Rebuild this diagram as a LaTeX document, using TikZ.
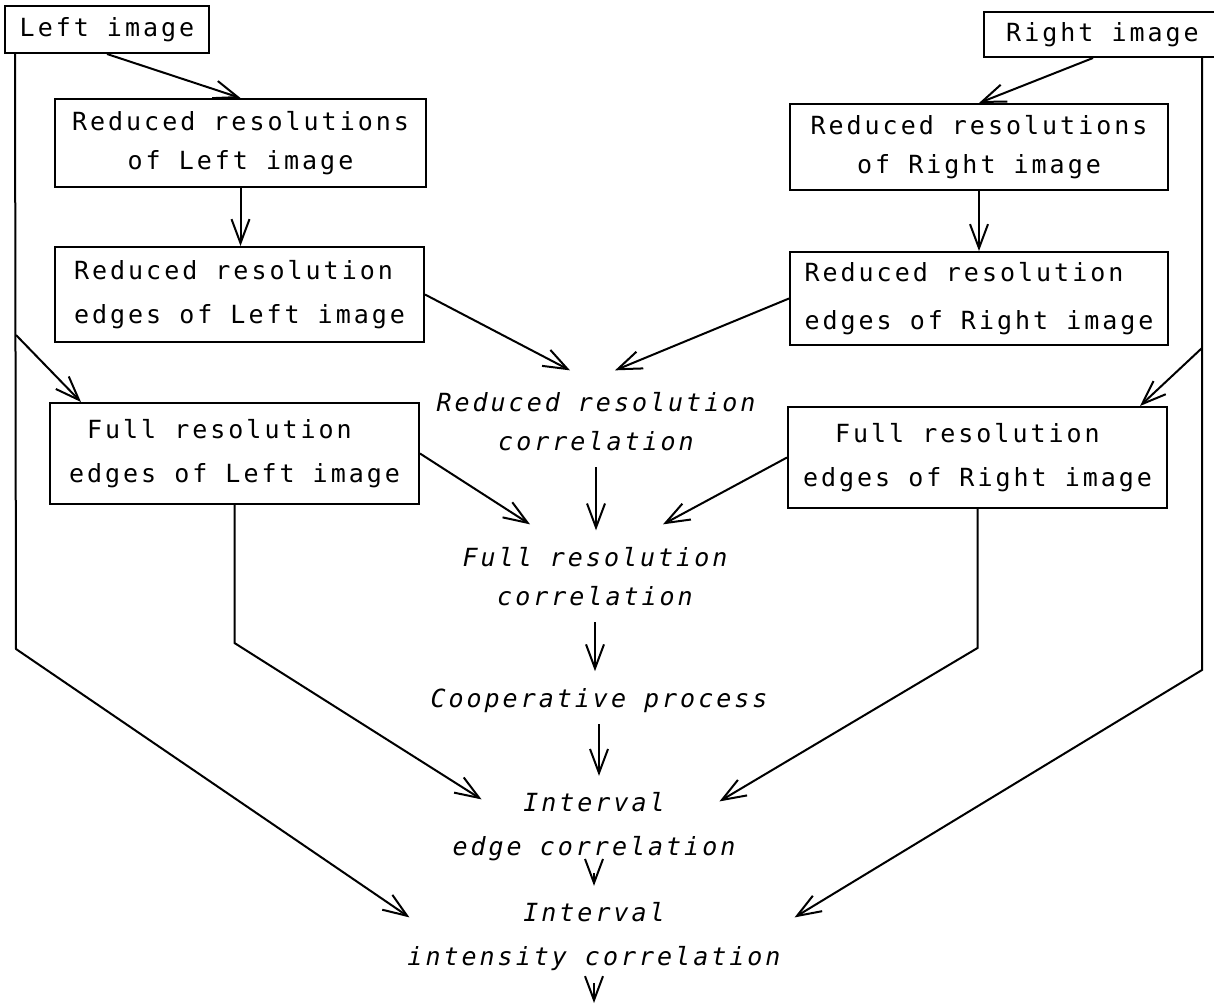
\documentclass[tikz,border=0pt]{standalone}
\usepackage{fontspec}
\newfontfamily\plotfont[LetterSpace=12]{DejaVu Sans Mono}
\usetikzlibrary{arrows.meta,calc}

\tikzset{
  box/.style={draw, font=\plotfont\fontsize{25}{39}\selectfont},
  corr/.style={font=\plotfont\itshape\fontsize{25}{39}\selectfont, align=center,
    inner xsep=12pt, inner ysep=16pt, text depth=0pt},
  >={Straight Barb[length=24pt,width=18pt]}
}

\begin{document}
\begin{tikzpicture}[x=1pt,y=-1pt,line width=2pt]
  \useasboundingbox (0,0) rectangle (1214,1004);

  \node[box, align=center, minimum width=204pt, minimum height=47pt] (limg) at (107,29.5) {Left image};
  \node[box, anchor=west, align=center, minimum width=237pt, minimum height=45pt] (rimg) at (983,34.5) {Right image};
  \node[box, align=center, minimum width=371pt, minimum height=88pt] (lred) at (240.5,143) {Reduced resolutions\\of Left image};
  \node[box, align=left, minimum width=369pt, minimum height=95pt] (ledge) at (239.5,294.5) {Reduced resolution\\[5pt]edges of Left image};
  \node[box, align=center, minimum width=378pt, minimum height=86pt] (rred) at (979,147) {Reduced resolutions\\of Right image};
  \node[box, align=left, minimum width=378pt, minimum height=93pt] (redge) at (979,298.5) {Reduced resolution\\[9pt]edges of Right image};
  \node[box, align=left, minimum width=369pt, minimum height=101pt] (lfull) at (234.5,453.5) {\hspace*{18pt}Full resolution\\[5pt]edges of Left image};
  \node[box, align=left, minimum width=379pt, minimum height=101pt] (rfull) at (977.5,457.5) {\hspace*{32pt}Full resolution\\[5pt]edges of Right image};

  \node[corr] (rcorr) at (596,421.4) {Reduced resolution\\correlation};
  \node[corr] (fcorr) at (595,576.4) {Full resolution\\correlation};
  \node[corr] (coop) at (599,697.7) {Cooperative process};
  \node[corr] (ecorr) at (594,824.4) {Interval\\[5pt]edge correlation};
  \node[corr] (icorr) at (594,934.4) {Interval\\[5pt]intensity correlation};

  \coordinate (ltop) at ($(limg.south west)+(11,0)$);
  \coordinate (lsplit) at (16,335);
  \coordinate (lbend) at (16,649);
  \coordinate (rtop) at ($(rimg.south west)+(219,0)$);
  \coordinate (rsplit) at (1202,348);
  \coordinate (rbend) at (1202,670);
  \coordinate (out) at (594,1003);

  \draw[->] (limg.south) -- (lred.north);
  \draw[->] ($(rimg.south west)+(110,0)$) -- (rred.north);
  \draw[->] (lred.south) -- (lred.south |- ledge.north);
  \draw[->] (rred.south) -- (redge.north);
  \draw[->] (ledge.east) -- ($(rcorr.north)+(-26,-5)$);
  \draw[->] (redge.west) -- ($(rcorr.north)+(19,-5)$);
  \draw[->] (lfull.east) -- ($(fcorr.north)+(-65,-6)$);
  \draw[->] (rfull.west) -- ($(fcorr.north)+(68,-6)$);
  \draw[->] (rcorr.south) -- (rcorr.south |- fcorr.north);
  \draw[->] (fcorr.south) -- (fcorr.south |- coop.north);
  \draw[->] (coop.south) -- (coop.south |- ecorr.north);
  \draw[->] (ecorr.south) -- (ecorr.south |- icorr.north);
  \draw[->] (icorr.south) -- (icorr.south |- out);

  \draw[->] (ltop) -- (lbend) -- ($(icorr.west)+(15,-17)$);
  \draw[->] (lsplit) -- ($(lfull.north west)+(32,0)$);
  \draw[->] (lfull.south) -- ++(0,138) -- ($(ecorr.west)+(42,-25)$);
  \draw[->] (rtop) -- (rbend) -- ($(icorr.east)+(1,-17)$);
  \draw[->] (rsplit) -- ($(rfull.north east)+(-28,0)$);
  \draw[->] (rfull.south) -- ++(0,139) -- ($(ecorr.east)+(-29,-23)$);
\end{tikzpicture}
\end{document}
